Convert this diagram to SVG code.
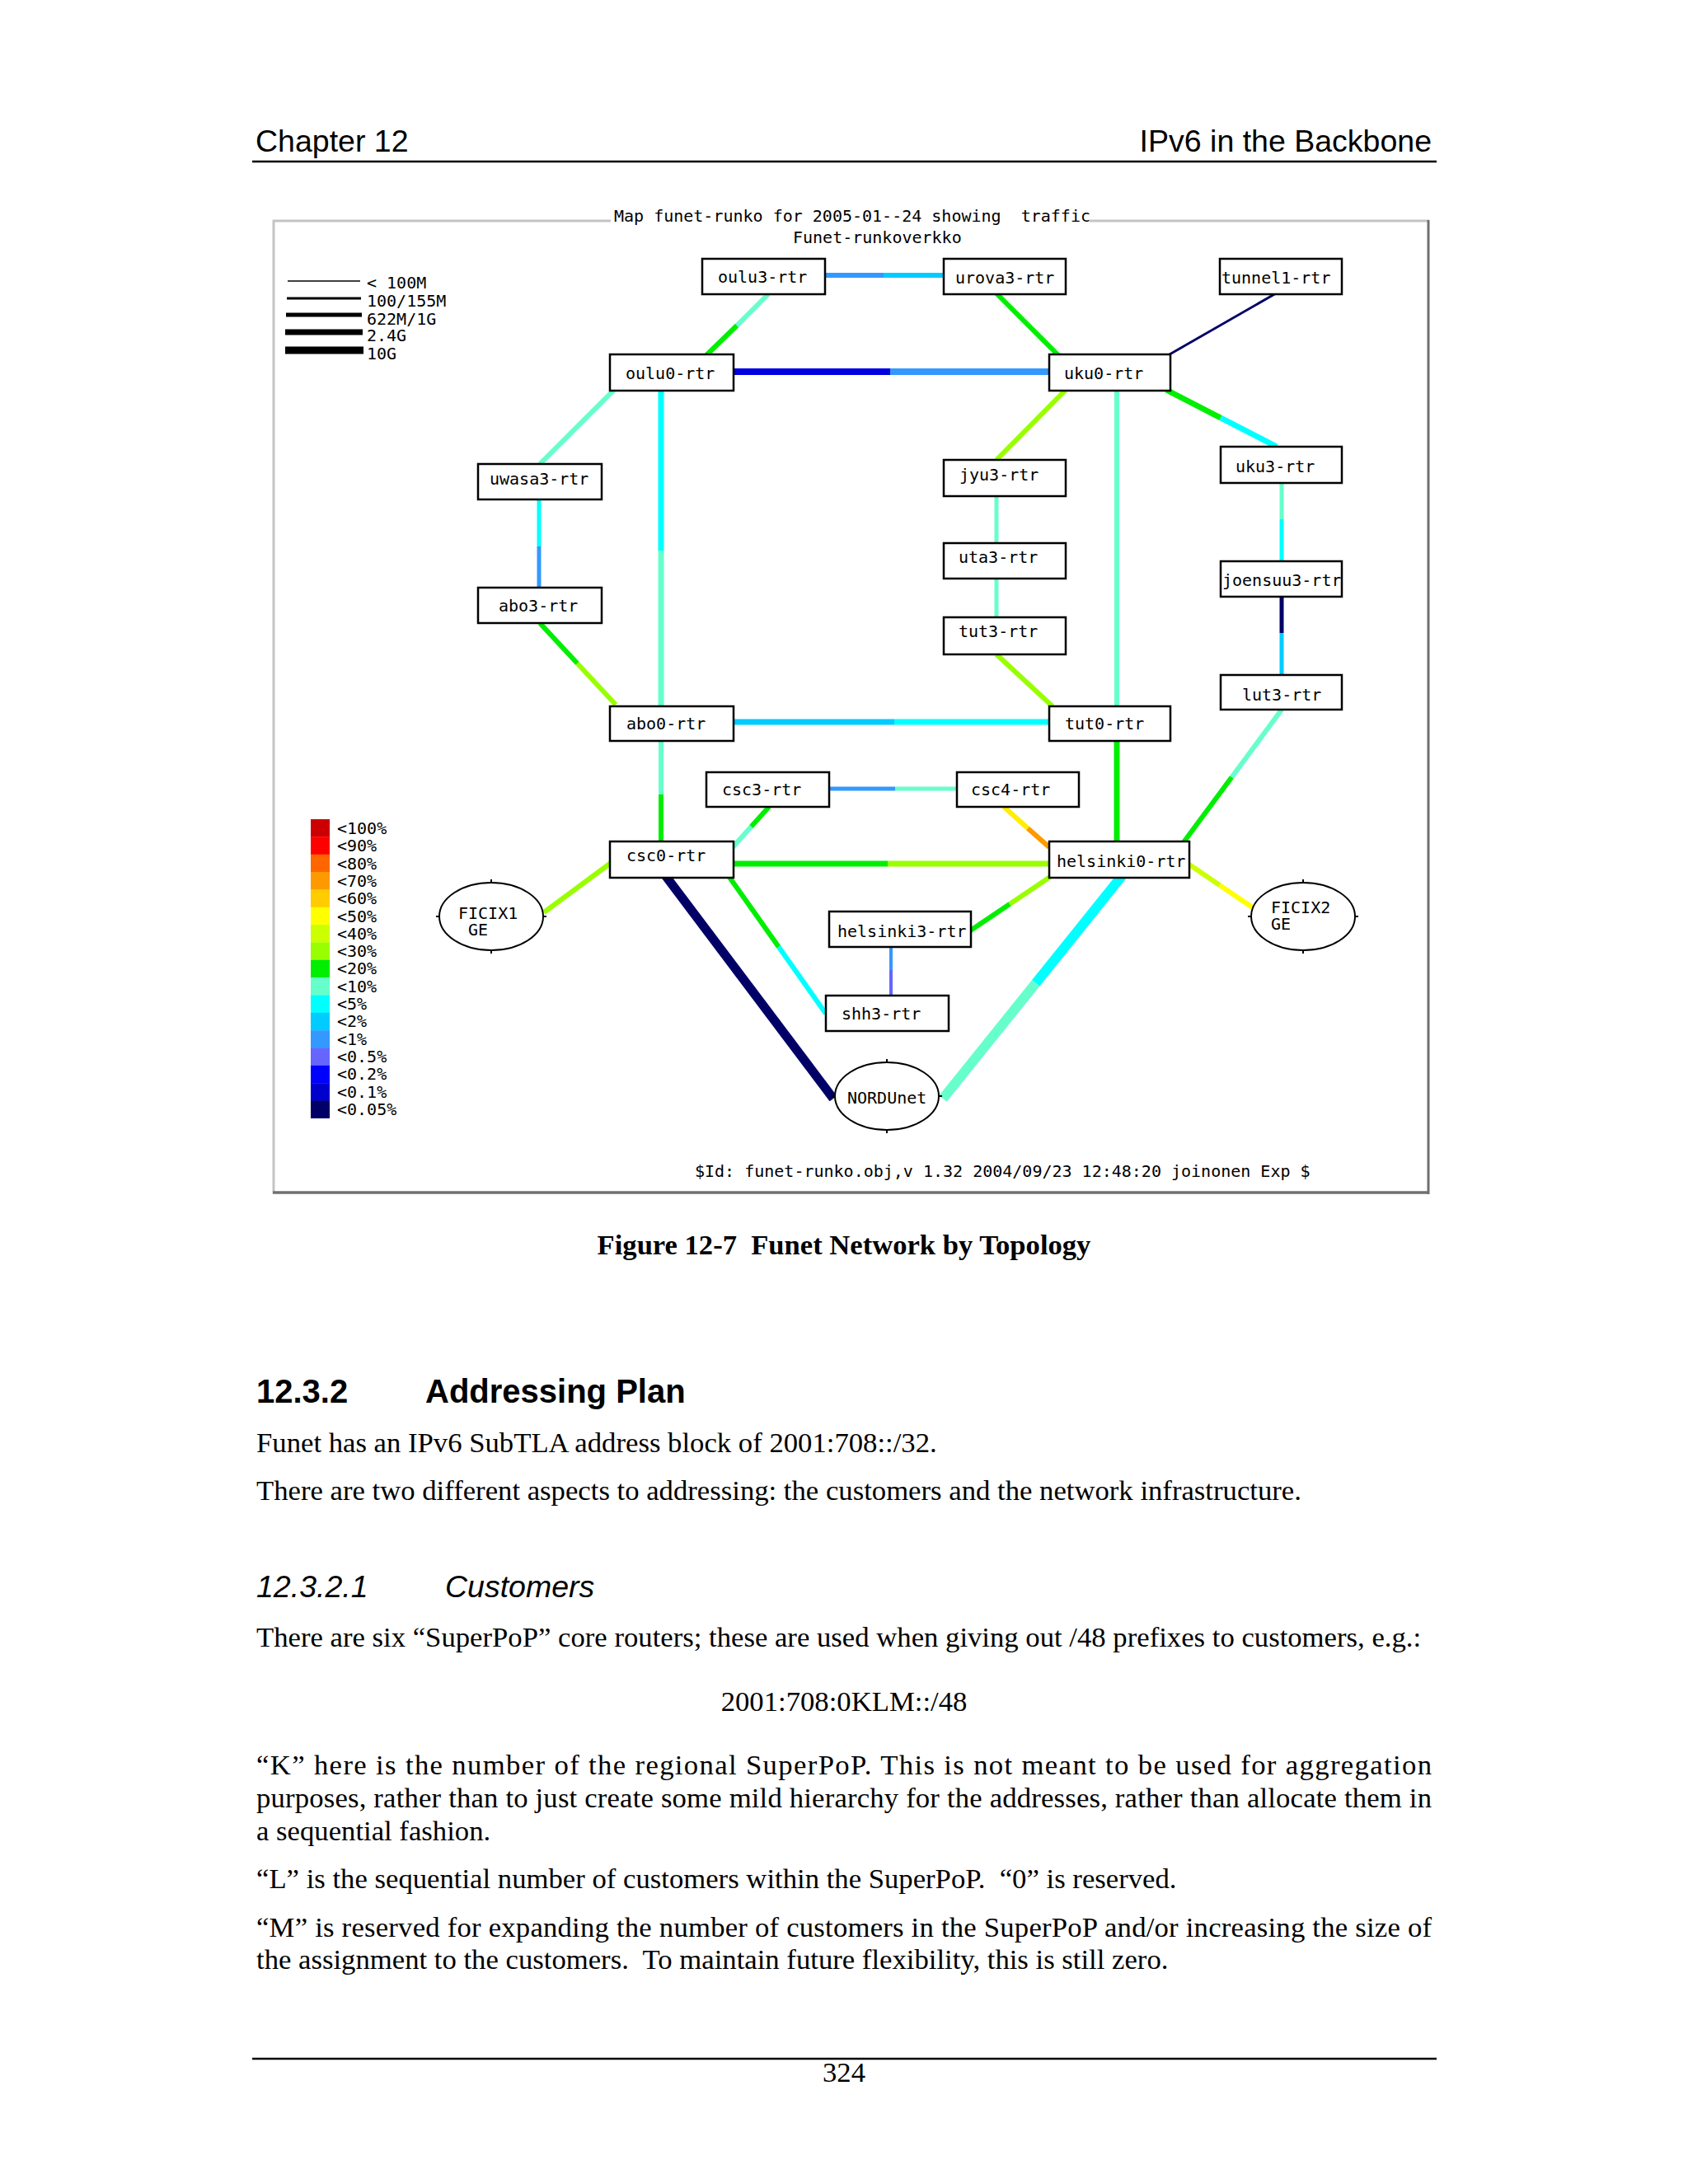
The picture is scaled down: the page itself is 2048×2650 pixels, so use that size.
<svg xmlns="http://www.w3.org/2000/svg" width="2048" height="2650" viewBox="0 0 2048 2650">
<style>
.pg{font-family:"Liberation Serif","Times New Roman",serif;font-size:34.7px;fill:#000}
.hd{font-family:"Liberation Sans",Arial,sans-serif;font-size:37.5px;fill:#000}
.sec{font-family:"Liberation Sans",Arial,sans-serif;font-size:40px;font-weight:bold;fill:#000}
.sub{font-family:"Liberation Sans",Arial,sans-serif;font-size:37.5px;font-style:italic;fill:#000}
.cap{font-family:"Liberation Serif","Times New Roman",serif;font-size:34.6px;font-weight:bold;fill:#000}
.m{font-family:"DejaVu Sans Mono","Liberation Mono",monospace;font-size:20px;fill:#000}
.box{fill:#fff;stroke:#000;stroke-width:2.5}
.ell{fill:#fff;stroke:#000;stroke-width:2}
.tick{stroke:#000;stroke-width:2}
.rule{stroke:#000;stroke-width:2.5}
line.l{fill:none;stroke-linecap:butt}
</style>
<rect x="0" y="0" width="2048" height="2650" fill="#ffffff"/>

<!-- page header -->
<g id="page-header">
<text class="hd" x="310" y="184">Chapter 12</text>
<text class="hd" x="1737" y="184" text-anchor="end">IPv6 in the Backbone</text>
<line class="rule" x1="306" y1="196" x2="1743" y2="196"/>
</g>

<!-- diagram frame -->
<g id="frame">
<line x1="331" y1="268" x2="1734" y2="268" stroke="#c4c4c4" stroke-width="3"/>
<line x1="332" y1="267" x2="332" y2="1448" stroke="#c4c4c4" stroke-width="3"/>
<line x1="1733" y1="267" x2="1733" y2="1449" stroke="#707070" stroke-width="3"/>
<line x1="331" y1="1447" x2="1734" y2="1447" stroke="#707070" stroke-width="3.5"/>
<rect x="741" y="262" width="581" height="10" fill="#ffffff"/>
<text class="m" x="745" y="269" xml:space="preserve">Map funet-runko for 2005-01--24 showing  traffic</text>
<text class="m" x="962" y="295">Funet-runkoverkko</text>
<text class="m" x="843" y="1428">$Id: funet-runko.obj,v 1.32 2004/09/23 12:48:20 joinonen Exp $</text>
</g>

<!-- capacity legend -->
<g id="legend-capacity">
<line x1="349" y1="341" x2="437" y2="341" stroke="#000" stroke-width="1.5"/>
<line x1="348" y1="362" x2="438" y2="362" stroke="#000" stroke-width="3"/>
<line x1="347" y1="382" x2="439" y2="382" stroke="#000" stroke-width="5"/>
<line x1="346" y1="403" x2="440" y2="403" stroke="#000" stroke-width="7"/>
<line x1="346" y1="425" x2="441" y2="425" stroke="#000" stroke-width="9"/>
<text class="m" x="445" y="350">&lt; 100M</text>
<text class="m" x="445" y="372">100/155M</text>
<text class="m" x="445" y="394">622M/1G</text>
<text class="m" x="445" y="414">2.4G</text>
<text class="m" x="445" y="436">10G</text>
</g>

<!-- load legend -->
<g id="legend-load">
<rect x="377" y="994" width="23" height="21.7" fill="#cc0000"/>
<rect x="377" y="1015.35" width="23" height="21.7" fill="#ff0000"/>
<rect x="377" y="1036.7" width="23" height="21.7" fill="#ff6600"/>
<rect x="377" y="1058.05" width="23" height="21.7" fill="#ff9900"/>
<rect x="377" y="1079.4" width="23" height="21.7" fill="#ffcc00"/>
<rect x="377" y="1100.75" width="23" height="21.7" fill="#ffff00"/>
<rect x="377" y="1122.1" width="23" height="21.7" fill="#ccff00"/>
<rect x="377" y="1143.45" width="23" height="21.7" fill="#99ff00"/>
<rect x="377" y="1164.8" width="23" height="21.7" fill="#00ee00"/>
<rect x="377" y="1186.15" width="23" height="21.7" fill="#66ffcc"/>
<rect x="377" y="1207.5" width="23" height="21.7" fill="#00ffff"/>
<rect x="377" y="1228.85" width="23" height="21.7" fill="#00ccff"/>
<rect x="377" y="1250.2" width="23" height="21.7" fill="#3399ff"/>
<rect x="377" y="1271.55" width="23" height="21.7" fill="#6666ff"/>
<rect x="377" y="1292.9" width="23" height="21.7" fill="#0000ff"/>
<rect x="377" y="1314.25" width="23" height="21.7" fill="#0000cc"/>
<rect x="377" y="1335.6" width="23" height="21.4" fill="#000066"/>
<text class="m" x="409" y="1012">&lt;100%</text>
<text class="m" x="409" y="1033.3">&lt;90%</text>
<text class="m" x="409" y="1054.6">&lt;80%</text>
<text class="m" x="409" y="1075.9">&lt;70%</text>
<text class="m" x="409" y="1097.2">&lt;60%</text>
<text class="m" x="409" y="1118.5">&lt;50%</text>
<text class="m" x="409" y="1139.8">&lt;40%</text>
<text class="m" x="409" y="1161.1">&lt;30%</text>
<text class="m" x="409" y="1182.4">&lt;20%</text>
<text class="m" x="409" y="1203.7">&lt;10%</text>
<text class="m" x="409" y="1225">&lt;5%</text>
<text class="m" x="409" y="1246.3">&lt;2%</text>
<text class="m" x="409" y="1267.6">&lt;1%</text>
<text class="m" x="409" y="1288.9">&lt;0.5%</text>
<text class="m" x="409" y="1310.2">&lt;0.2%</text>
<text class="m" x="409" y="1331.5">&lt;0.1%</text>
<text class="m" x="409" y="1352.8">&lt;0.05%</text>
</g>

<!-- connectors -->
<g id="connectors">
<line class="l" x1="1002" y1="334" x2="1072" y2="334" stroke="#3399ff" stroke-width="6"/>
<line class="l" x1="1072" y1="334" x2="1145" y2="334" stroke="#00ccff" stroke-width="6"/>
<line class="l" x1="932" y1="357" x2="894" y2="395" stroke="#66ffcc" stroke-width="6"/>
<line class="l" x1="894" y1="395" x2="857" y2="431" stroke="#00ee00" stroke-width="6"/>
<line class="l" x1="1209" y1="356" x2="1284" y2="431" stroke="#00ee00" stroke-width="6"/>
<line class="l" x1="1548" y1="356" x2="1419" y2="430" stroke="#000066" stroke-width="3"/>
<line class="l" x1="886" y1="451" x2="1080" y2="451" stroke="#0000e0" stroke-width="8"/>
<line class="l" x1="1080" y1="451" x2="1275" y2="451" stroke="#3399ff" stroke-width="8"/>
<line class="l" x1="746" y1="472" x2="655" y2="563" stroke="#66ffcc" stroke-width="6"/>
<line class="l" x1="802" y1="474" x2="802" y2="668" stroke="#00ffff" stroke-width="7"/>
<line class="l" x1="802" y1="668" x2="802" y2="857" stroke="#66ffcc" stroke-width="7"/>
<line class="l" x1="654" y1="606" x2="654" y2="663" stroke="#00ffff" stroke-width="5"/>
<line class="l" x1="654" y1="663" x2="654" y2="713" stroke="#3399ff" stroke-width="5"/>
<line class="l" x1="1293" y1="473" x2="1209" y2="558" stroke="#99ff00" stroke-width="6"/>
<line class="l" x1="1355" y1="474" x2="1355" y2="857" stroke="#66ffcc" stroke-width="6"/>
<line class="l" x1="1415" y1="473" x2="1481" y2="507" stroke="#00ee00" stroke-width="7"/>
<line class="l" x1="1481" y1="507" x2="1549" y2="542" stroke="#00ffff" stroke-width="7"/>
<line class="l" x1="1209" y1="602" x2="1209" y2="659" stroke="#66ffcc" stroke-width="5"/>
<line class="l" x1="1209" y1="702" x2="1209" y2="749" stroke="#66ffcc" stroke-width="5"/>
<line class="l" x1="1555" y1="586" x2="1555" y2="630" stroke="#66ffcc" stroke-width="5"/>
<line class="l" x1="1555" y1="630" x2="1555" y2="681" stroke="#00ffff" stroke-width="5"/>
<line class="l" x1="1555" y1="724" x2="1555" y2="768" stroke="#000066" stroke-width="5"/>
<line class="l" x1="1555" y1="768" x2="1555" y2="819" stroke="#00ccff" stroke-width="5"/>
<line class="l" x1="655" y1="756" x2="700.5" y2="805" stroke="#00ee00" stroke-width="6"/>
<line class="l" x1="700.5" y1="805" x2="747" y2="855" stroke="#99ff00" stroke-width="6"/>
<line class="l" x1="1209" y1="794" x2="1277" y2="857" stroke="#99ff00" stroke-width="6"/>
<line class="l" x1="886" y1="876" x2="1085" y2="876" stroke="#00ccff" stroke-width="7"/>
<line class="l" x1="1085" y1="876" x2="1275" y2="876" stroke="#00ffff" stroke-width="7"/>
<line class="l" x1="1555" y1="861" x2="1494.4" y2="943" stroke="#66ffcc" stroke-width="6"/>
<line class="l" x1="1494.4" y1="943" x2="1436" y2="1022" stroke="#00ee00" stroke-width="6"/>
<line class="l" x1="802" y1="899" x2="802" y2="964" stroke="#66ffcc" stroke-width="6"/>
<line class="l" x1="802" y1="964" x2="802" y2="1021" stroke="#00ee00" stroke-width="6"/>
<line class="l" x1="1355" y1="899" x2="1355" y2="1021" stroke="#00ee00" stroke-width="7"/>
<line class="l" x1="1006" y1="957" x2="1086" y2="957" stroke="#3399ff" stroke-width="5"/>
<line class="l" x1="1086" y1="957" x2="1161" y2="957" stroke="#66ffcc" stroke-width="5"/>
<line class="l" x1="933" y1="979" x2="911.4" y2="1003" stroke="#00ee00" stroke-width="6"/>
<line class="l" x1="911.4" y1="1003" x2="889" y2="1028" stroke="#66ffcc" stroke-width="6"/>
<line class="l" x1="1218" y1="979" x2="1247" y2="1005" stroke="#ffee00" stroke-width="6"/>
<line class="l" x1="1247" y1="1005" x2="1273" y2="1028" stroke="#ff9900" stroke-width="6"/>
<line class="l" x1="886" y1="1048" x2="1077" y2="1048" stroke="#00ee00" stroke-width="7"/>
<line class="l" x1="1077" y1="1048" x2="1275" y2="1048" stroke="#99ff00" stroke-width="7"/>
<line class="l" x1="660" y1="1107" x2="741" y2="1047" stroke="#99ff00" stroke-width="6"/>
<line class="l" x1="807" y1="1062" x2="1011" y2="1333" stroke="#000066" stroke-width="11"/>
<line class="l" x1="884" y1="1063" x2="944.8" y2="1149" stroke="#00ee00" stroke-width="6"/>
<line class="l" x1="944.8" y1="1149" x2="1002" y2="1230" stroke="#00ffff" stroke-width="6"/>
<line class="l" x1="1274" y1="1064" x2="1225" y2="1097" stroke="#99ff00" stroke-width="6"/>
<line class="l" x1="1225" y1="1097" x2="1176" y2="1130" stroke="#00ee00" stroke-width="6"/>
<line class="l" x1="1081" y1="1149" x2="1081" y2="1177" stroke="#3399ff" stroke-width="4"/>
<line class="l" x1="1081" y1="1177" x2="1081" y2="1208" stroke="#6666ff" stroke-width="4"/>
<line class="l" x1="1361" y1="1063" x2="1256.6" y2="1193" stroke="#00ffff" stroke-width="12"/>
<line class="l" x1="1256.6" y1="1193" x2="1144" y2="1333" stroke="#66ffcc" stroke-width="12"/>
<line class="l" x1="1440" y1="1047" x2="1479.7" y2="1074" stroke="#ccff00" stroke-width="6"/>
<line class="l" x1="1479.7" y1="1074" x2="1521" y2="1102" stroke="#ffff00" stroke-width="6"/>
</g>

<!-- nodes -->
<g id="oulu3-rtr"><rect class="box" x="852" y="314" width="149" height="43"/><text class="m" x="871" y="343">oulu3-rtr</text></g>
<g id="urova3-rtr"><rect class="box" x="1145" y="314" width="148" height="43"/><text class="m" x="1159" y="344">urova3-rtr</text></g>
<g id="tunnel1-rtr"><rect class="box" x="1480" y="314" width="148" height="43"/><text class="m" x="1482" y="344">tunnel1-rtr</text></g>
<g id="oulu0-rtr"><rect class="box" x="740" y="430" width="150" height="44"/><text class="m" x="759" y="460">oulu0-rtr</text></g>
<g id="uku0-rtr"><rect class="box" x="1273" y="430" width="147" height="44"/><text class="m" x="1291" y="460">uku0-rtr</text></g>
<g id="uwasa3-rtr"><rect class="box" x="580" y="563" width="150" height="43"/><text class="m" x="594" y="588">uwasa3-rtr</text></g>
<g id="jyu3-rtr"><rect class="box" x="1145" y="558" width="148" height="44"/><text class="m" x="1164" y="583">jyu3-rtr</text></g>
<g id="uku3-rtr"><rect class="box" x="1481" y="542" width="147" height="44"/><text class="m" x="1499" y="573">uku3-rtr</text></g>
<g id="uta3-rtr"><rect class="box" x="1145" y="659" width="148" height="43"/><text class="m" x="1163" y="683">uta3-rtr</text></g>
<g id="joensuu3-rtr"><rect class="box" x="1481" y="681" width="147" height="43"/><text class="m" x="1483" y="711">joensuu3-rtr</text></g>
<g id="abo3-rtr"><rect class="box" x="580" y="713" width="150" height="43"/><text class="m" x="605" y="742">abo3-rtr</text></g>
<g id="tut3-rtr"><rect class="box" x="1145" y="749" width="148" height="45"/><text class="m" x="1163" y="773">tut3-rtr</text></g>
<g id="lut3-rtr"><rect class="box" x="1481" y="819" width="147" height="42"/><text class="m" x="1507" y="850">lut3-rtr</text></g>
<g id="abo0-rtr"><rect class="box" x="740" y="857" width="150" height="42"/><text class="m" x="760" y="885">abo0-rtr</text></g>
<g id="tut0-rtr"><rect class="box" x="1273" y="857" width="147" height="42"/><text class="m" x="1292" y="885">tut0-rtr</text></g>
<g id="csc3-rtr"><rect class="box" x="857" y="937" width="149" height="42"/><text class="m" x="876" y="965">csc3-rtr</text></g>
<g id="csc4-rtr"><rect class="box" x="1161" y="937" width="148" height="42"/><text class="m" x="1178" y="965">csc4-rtr</text></g>
<g id="csc0-rtr"><rect class="box" x="740" y="1021" width="150" height="44"/><text class="m" x="760" y="1045">csc0-rtr</text></g>
<g id="helsinki0-rtr"><rect class="box" x="1273" y="1021" width="170" height="44"/><text class="m" x="1282" y="1052">helsinki0-rtr</text></g>
<g id="helsinki3-rtr"><rect class="box" x="1006" y="1106" width="172" height="43"/><text class="m" x="1016" y="1137">helsinki3-rtr</text></g>
<g id="shh3-rtr"><rect class="box" x="1002" y="1208" width="149" height="43"/><text class="m" x="1021" y="1237">shh3-rtr</text></g>
<g id="FICIX1">
<ellipse class="ell" cx="596" cy="1112" rx="63" ry="41"/>
<line class="tick" x1="596" y1="1067" x2="596" y2="1071"/><line class="tick" x1="596" y1="1153" x2="596" y2="1157"/>
<line class="tick" x1="529" y1="1112" x2="533" y2="1112"/><line class="tick" x1="659" y1="1112" x2="663" y2="1112"/>
<text class="m" x="556" y="1115">FICIX1</text><text class="m" x="568" y="1135">GE</text>
</g>
<g id="FICIX2">
<ellipse class="ell" cx="1581" cy="1112" rx="63" ry="41"/>
<line class="tick" x1="1581" y1="1067" x2="1581" y2="1071"/><line class="tick" x1="1581" y1="1153" x2="1581" y2="1157"/>
<line class="tick" x1="1514" y1="1112" x2="1518" y2="1112"/><line class="tick" x1="1644" y1="1112" x2="1648" y2="1112"/>
<text class="m" x="1542" y="1108">FICIX2</text><text class="m" x="1542" y="1128">GE</text>
</g>
<g id="NORDUnet">
<ellipse class="ell" cx="1076" cy="1330" rx="63" ry="41"/>
<line class="tick" x1="1076" y1="1285" x2="1076" y2="1289"/><line class="tick" x1="1076" y1="1371" x2="1076" y2="1375"/>
<line class="tick" x1="1009" y1="1330" x2="1013" y2="1330"/><line class="tick" x1="1139" y1="1330" x2="1143" y2="1330"/>
<text class="m" x="1028" y="1339">NORDUnet</text>
</g>

<!-- caption and body text -->
<g id="caption">
<text class="cap" x="1024" y="1522" text-anchor="middle" xml:space="preserve">Figure 12-7  Funet Network by Topology</text>
</g>
<g id="body">
<text class="sec" x="311" y="1702">12.3.2</text>
<text class="sec" x="516" y="1702">Addressing Plan</text>
<text class="pg" x="311" y="1762">Funet has an IPv6 SubTLA address block of 2001:708::/32.</text>
<text class="pg" x="311" y="1820">There are two different aspects to addressing: the customers and the network infrastructure.</text>
<text class="sub" x="311" y="1938">12.3.2.1</text>
<text class="sub" x="540" y="1938">Customers</text>
<text class="pg" x="311" y="1998">There are six “SuperPoP” core routers; these are used when giving out /48 prefixes to customers, e.g.:</text>
<text class="pg" x="1024" y="2076" text-anchor="middle">2001:708:0KLM::/48</text>
<text class="pg" x="311" y="2153" textLength="1426" lengthAdjust="spacing">“K” here is the number of the regional SuperPoP. This is not meant to be used for aggregation</text>
<text class="pg" x="311" y="2193" textLength="1426" lengthAdjust="spacing">purposes, rather than to just create some mild hierarchy for the addresses, rather than allocate them in</text>
<text class="pg" x="311" y="2233">a sequential fashion.</text>
<text class="pg" x="311" y="2291" xml:space="preserve">“L” is the sequential number of customers within the SuperPoP.  “0” is reserved.</text>
<text class="pg" x="311" y="2350" textLength="1426" lengthAdjust="spacing">“M” is reserved for expanding the number of customers in the SuperPoP and/or increasing the size of</text>
<text class="pg" x="311" y="2389" xml:space="preserve">the assignment to the customers.  To maintain future flexibility, this is still zero.</text>
</g>
<g id="page-footer">
<line class="rule" x1="306" y1="2498" x2="1743" y2="2498"/>
<text class="pg" x="1024" y="2526" text-anchor="middle">324</text>
</g>
</svg>
